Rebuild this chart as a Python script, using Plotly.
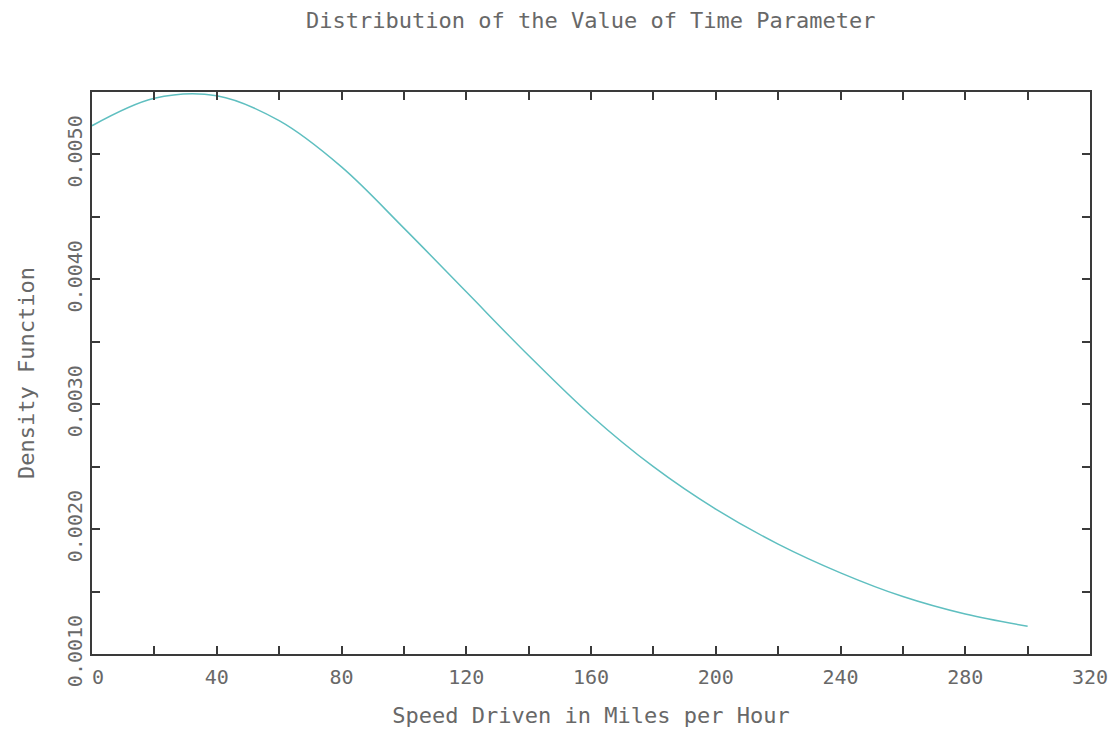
import plotly.graph_objects as go

speed = [0, 20, 40, 60, 80, 100, 120, 140, 160, 180, 200, 220, 240, 260, 280, 300]
density = [0.00523, 0.00545, 0.00547, 0.00527, 0.00490, 0.00441, 0.00390, 0.00339,
           0.00291, 0.00250, 0.00216, 0.00188, 0.00165, 0.00146, 0.00132, 0.001222]

x_tickvals = list(range(0, 321, 20))
x_ticktext = [("\u00a0" + str(v) if v == 0 else str(v)) if v % 40 == 0 else "" for v in x_tickvals]
y_tickvals = [0.0010, 0.0015, 0.0020, 0.0025, 0.0030, 0.0035, 0.0040, 0.0045, 0.0050, 0.0055]
y_ticktext = ["0.0010", "", "0.0020", "", "0.0030", "", "0.0040", "", "0.0050", ""]

title_text = "Distribution of the Value of Time Parameter"
x_title = "Speed Driven in Miles per Hour"
y_title = "Density Function"

FONT = "DejaVu Sans Mono"
TXT = "#686868"

fig = go.Figure()
fig.add_trace(go.Scatter(x=speed, y=density, mode="lines",
                         line=dict(color="#5fbfc0", width=1.5, shape="spline", smoothing=1.0),
                         showlegend=False, hoverinfo="skip"))

axis_common = dict(showgrid=False, zeroline=False, showline=True, linecolor="#3a3a3a",
                   linewidth=2, mirror="ticks", ticks="inside", ticklen=8, tickwidth=1.5,
                   tickcolor="#3a3a3a", tickfont=dict(family=FONT, size=20, color=TXT))

fig.update_layout(
    width=1120, height=736,
    margin=dict(l=92, r=29, t=92, b=80),
    paper_bgcolor="white", plot_bgcolor="white",
    title=dict(text=title_text, x=0.5275, xanchor="center", y=1 - 20 / 736, yref="container",
               yanchor="middle", font=dict(family=FONT, size=22, color=TXT)),
    xaxis=dict(range=[0, 320], tickmode="array", tickvals=x_tickvals, ticktext=x_ticktext,
               ticklabelstandoff=4,
               title=dict(text=x_title, font=dict(family=FONT, size=22, color=TXT), standoff=20),
               **axis_common),
    yaxis=dict(range=[0.0010, 0.0055], tickmode="array", tickvals=y_tickvals, ticktext=y_ticktext,
               tickangle=-90,
               title=dict(text=y_title, font=dict(family=FONT, size=22, color=TXT), standoff=22),
               **axis_common),
)

fig.write_html("out.html")
